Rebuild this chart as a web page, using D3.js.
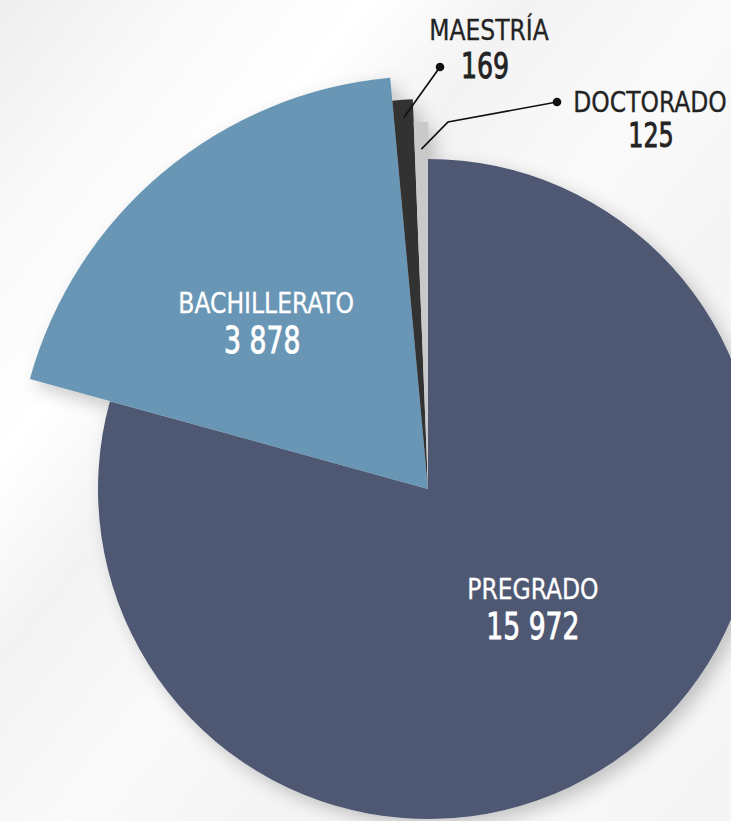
<!DOCTYPE html>
<html>
<head>
<meta charset="utf-8">
<script src="https://cdn.jsdelivr.net/npm/d3@7"></script>
<style>
  html, body { margin: 0; padding: 0; }
  body { width: 731px; height: 821px; overflow: hidden; }
  svg text { font-family: "Liberation Sans Narrow", "DejaVu Sans Condensed", "Roboto", sans-serif; }
</style>
</head>
<body>
<svg id="chart"></svg>
<script>
// data
const categories = ["PREGRADO", "BACHILLERATO", "MAESTRÍA", "DOCTORADO"];
const values = [15972, 3878, 169, 125];
const valueLabels = ["15 972", "3 878", "169", "125"];

const width = 731, height = 821;
const cx = 428, cy = 489;

// each slice is pulled out to its own radius
const outerR = { "PREGRADO": 330, "BACHILLERATO": 413, "MAESTRÍA": 390, "DOCTORADO": 367 };
const colors = { "PREGRADO": "#4f5873", "BACHILLERATO": "#6796b4", "MAESTRÍA": "#333333", "DOCTORADO": "#c9c9c9" };

const svg = d3.select("#chart").attr("width", width).attr("height", height);

// background: near white with faint diagonal bands
const defs = svg.append("defs");
const bg = defs.append("linearGradient").attr("id", "bg")
  .attr("x1", "0").attr("y1", "0").attr("x2", "1").attr("y2", "0.9");
[["0%", "#eeeeee"], ["14%", "#f9f9f9"], ["28%", "#ffffff"], ["40%", "#f3f3f3"],
 ["55%", "#fafafa"], ["70%", "#f4f4f4"], ["85%", "#fbfbfb"], ["100%", "#f5f5f5"]]
  .forEach(s => bg.append("stop").attr("offset", s[0]).attr("stop-color", s[1]));

const shadow = defs.append("filter").attr("id", "shadow")
  .attr("x", "-20%").attr("y", "-20%").attr("width", "140%").attr("height", "140%");
shadow.append("feDropShadow").attr("dx", 7).attr("dy", 7).attr("stdDeviation", 9)
  .attr("flood-color", "#000").attr("flood-opacity", 0.22);

svg.append("rect").attr("width", width).attr("height", height).attr("fill", "url(#bg)");

const pie = d3.pie().sort(null).value(d => d.value)
  .startAngle(0).endAngle(2 * Math.PI);

const rows = categories.map((c, i) => ({ name: c, value: values[i], label: valueLabels[i] }));
const arcsData = pie(rows);

const arc = d3.arc().innerRadius(0).outerRadius(d => outerR[d.data.name]);

const g = svg.append("g").attr("transform", `translate(${cx},${cy})`);

g.append("g").attr("filter", "url(#shadow)")
  .selectAll("path")
  .data(arcsData)
  .join("path")
  .attr("d", arc)
  .attr("fill", d => colors[d.data.name]);

// condensed text helper: name line + number line
function labelBlock(x, y, d, fill, nameSize, numSize, numDx, gap) {
  g.append("text").attr("text-anchor", "middle").attr("fill", fill)
    .attr("font-size", nameSize)
    .attr("stroke", fill).attr("stroke-width", 0.3)
    .attr("transform", `translate(${x},${y}) scale(0.9,1)`)
    .text(d.data.name);
  g.append("text").attr("text-anchor", "middle").attr("fill", fill)
    .attr("font-size", numSize)
    .attr("stroke", fill).attr("stroke-width", 0.9)
    .attr("transform", `translate(${x + numDx},${y + gap}) scale(0.78,1)`)
    .text(d.data.label);
}

// labels inside the two big slices
const inside = {
  "PREGRADO": { r: 160, dx: 8, dy: -17, numDx: 0 },
  "BACHILLERATO": { r: 235, dx: -11, dy: 4, numDx: -4 }
};
arcsData.filter(d => inside[d.data.name]).forEach(d => {
  const o = inside[d.data.name];
  const c = d3.arc().innerRadius(o.r).outerRadius(o.r).centroid(d);
  labelBlock(c[0] + o.dx, c[1] + o.dy, d, "#fff", 29, 38, o.numDx, 40);
});

// small slices: leader lines with dots and outside labels
const outside = {
  "MAESTRÍA": { r: 372, bend: null, dot: [12, -422], text: [61, -449], numDx: -4, numSize: 36, gap: 38 },
  "DOCTORADO": { r: 340, bend: [20, -367], dot: [129, -387], text: [222, -377], numDx: 1, numSize: 34, gap: 35 }
};
arcsData.filter(d => outside[d.data.name]).forEach(d => {
  const o = outside[d.data.name];
  const p = d3.arc().innerRadius(o.r).outerRadius(o.r).centroid(d);
  const pts = [p];
  if (o.bend) pts.push(o.bend);
  pts.push(o.dot);
  g.append("path").attr("d", d3.line()(pts))
    .attr("fill", "none").attr("stroke", "#111").attr("stroke-width", 1.7);
  g.append("circle").attr("cx", o.dot[0]).attr("cy", o.dot[1]).attr("r", 4.3).attr("fill", "#111");
  labelBlock(o.text[0], o.text[1], d, "#232323", 29, o.numSize, o.numDx, o.gap);
});
</script>
</body>
</html>
